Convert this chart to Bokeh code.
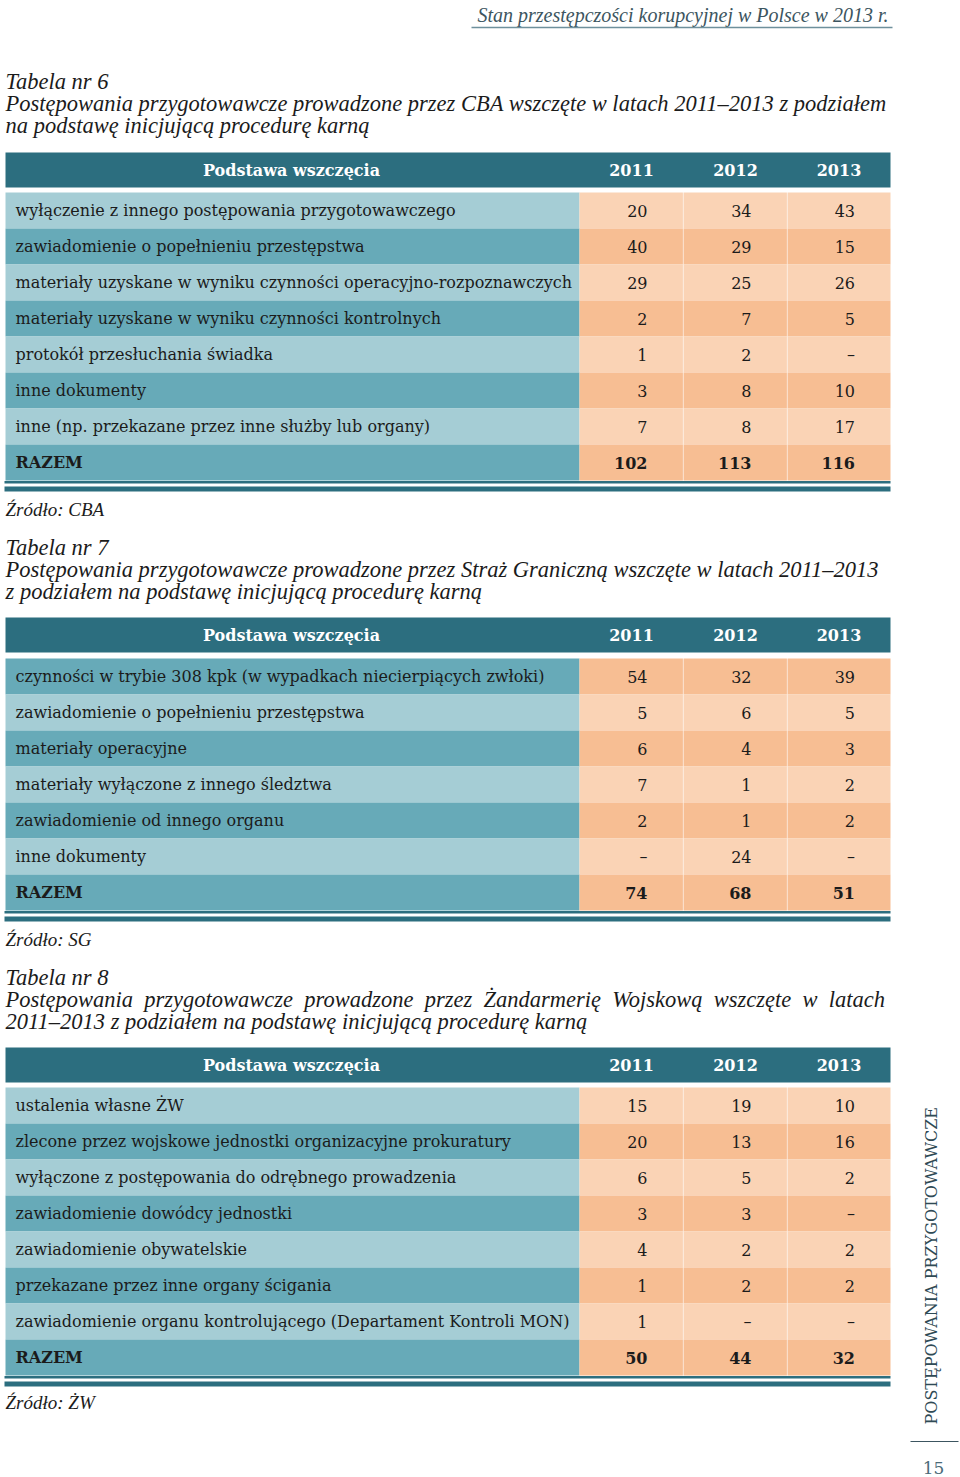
import math
from bokeh.plotting import figure
from bokeh.models import Range1d, ColumnDataSource
from bokeh.core.properties import value
from bokeh.embed import file_html
from bokeh.resources import INLINE

# ---------------- data ----------------
years = ["2011", "2012", "2013"]
head_label = "Podstawa wszczęcia"
total_label = "RAZEM"

t6_title = "Tabela nr 6"
t6_caption = ["Postępowania przygotowawcze prowadzone przez CBA wszczęte w latach 2011–2013 z podziałem",
              "na podstawę inicjującą procedurę karną"]
t6_labels = ["wyłączenie z innego postępowania przygotowawczego",
             "zawiadomienie o popełnieniu przestępstwa",
             "materiały uzyskane w wyniku czynności operacyjno-rozpoznawczych",
             "materiały uzyskane w wyniku czynności kontrolnych",
             "protokół przesłuchania świadka",
             "inne dokumenty",
             "inne (np. przekazane przez inne służby lub organy)"]
t6_2011 = [20, 40, 29, 2, 1, 3, 7]
t6_2012 = [34, 29, 25, 7, 2, 8, 8]
t6_2013 = [43, 15, 26, 5, None, 10, 17]
t6_total = [102, 113, 116]
t6_source = "Źródło: CBA"

t7_title = "Tabela nr 7"
t7_caption = ["Postępowania przygotowawcze prowadzone przez Straż Graniczną wszczęte w latach 2011–2013",
              "z podziałem na podstawę inicjującą procedurę karną"]
t7_labels = ["czynności w trybie 308 kpk (w wypadkach niecierpiących zwłoki)",
             "zawiadomienie o popełnieniu przestępstwa",
             "materiały operacyjne",
             "materiały wyłączone z innego śledztwa",
             "zawiadomienie od innego organu",
             "inne dokumenty"]
t7_2011 = [54, 5, 6, 7, 2, None]
t7_2012 = [32, 6, 4, 1, 1, 24]
t7_2013 = [39, 5, 3, 2, 2, None]
t7_total = [74, 68, 51]
t7_source = "Źródło: SG"

t8_title = "Tabela nr 8"
t8_caption = ["Postępowania przygotowawcze prowadzone przez Żandarmerię Wojskową wszczęte w latach",
              "2011–2013 z podziałem na podstawę inicjującą procedurę karną"]
t8_labels = ["ustalenia własne ŻW",
             "zlecone przez wojskowe jednostki organizacyjne prokuratury",
             "wyłączone z postępowania do odrębnego prowadzenia",
             "zawiadomienie dowódcy jednostki",
             "zawiadomienie obywatelskie",
             "przekazane przez inne organy ścigania",
             "zawiadomienie organu kontrolującego (Departament Kontroli MON)"]
t8_2011 = [15, 20, 6, 3, 4, 1, 1]
t8_2012 = [19, 13, 5, 3, 2, 2, None]
t8_2013 = [10, 16, 2, None, 2, 2, None]
t8_total = [50, 44, 32]
t8_source = "Źródło: ŻW"

page_header = "Stan przestępczości korupcyjnej w Polsce w 2013 r."
side_label = "POSTĘPOWANIA PRZYGOTOWAWCZE"
page_no = "15"

# ---------------- style ----------------
SERIF = value("DejaVu Serif")
ITAL = value("Liberation Serif")
HEAD = "#2C6E7F"
LAB_L, LAB_D = "#A5CDD5", "#67AAB8"
VAL_L, VAL_D = "#FAD3B5", "#F7BE93"
TXT = "#1b1b1b"
CAP_SIZE = "22.5px"
BODY_SIZE = "16px"

W, H = 960, 1477
p = figure(width=W, height=H, x_range=Range1d(0, W), y_range=Range1d(H, 0),
           output_backend="svg", toolbar_location=None, min_border=0)
p.axis.visible = False
p.grid.visible = False
p.outline_line_color = None
p.background_fill_color = "white"
p.border_fill_color = "white"


def fmt(v):
    return "–" if v is None else str(v)


def justify(line):
    # widen inter-word gaps to mimic the justified line of the source
    return "\u00a0 ".join(line.split(" "))


def draw_table(title, caption, labels, cols, totals, source, y_title, head_top, row_top, src_y,
               justify_first=False):
    p.text(x=[5], y=[y_title], text=[title], text_font=ITAL, text_font_style="italic",
           text_font_size=CAP_SIZE, text_color=TXT, text_baseline="middle")
    cap = [justify(caption[0]) if justify_first else caption[0], caption[1]]
    p.text(x=[5, 5], y=[y_title + 22, y_title + 44], text=cap, text_font=ITAL,
           text_font_style="italic", text_font_size=CAP_SIZE, text_color=TXT, text_baseline="middle")
    xl, xr = 5, 890
    xs = [579, 683, 787, 890]
    # header
    p.quad(left=[xl], right=[xr], top=[head_top], bottom=[head_top + 35], fill_color=HEAD, line_color=None)
    p.text(x=[291], y=[head_top + 17.5], text=[head_label], text_font=SERIF, text_font_style="bold",
           text_font_size="16px", text_color="white", text_align="center", text_baseline="middle")
    p.text(x=[(xs[i] + xs[i + 1]) / 2 for i in range(3)], y=[head_top + 17.5] * 3, text=years,
           text_font=SERIF, text_font_style="bold", text_font_size="16px", text_color="white",
           text_align="center", text_baseline="middle")
    # body (banding counted back from the RAZEM row, which is always dark)
    n = len(labels) + 1
    rh = 36
    tops = [row_top + i * rh for i in range(n)]
    bots = [t + rh for t in tops]
    dark = [(n - 1 - i) % 2 == 0 for i in range(n)]
    p.quad(left=[xl] * n, right=[579] * n, top=tops, bottom=bots,
           fill_color=[LAB_D if d else LAB_L for d in dark], line_color=None)
    for j in range(3):
        p.quad(left=[xs[j]] * n, right=[xs[j + 1] - (0.6 if j < 2 else 0)] * n, top=tops, bottom=bots,
               fill_color=[VAL_D if d else VAL_L for d in dark], line_color=None)
    cy = [t + rh / 2 for t in tops]
    p.text(x=[15] * (n - 1), y=cy[:-1], text=labels, text_font=SERIF, text_font_size=BODY_SIZE,
           text_color=TXT, text_baseline="middle")
    p.text(x=[15], y=[cy[-1]], text=[total_label], text_font=SERIF, text_font_style="bold",
           text_font_size=BODY_SIZE, text_color=TXT, text_baseline="middle")
    for j in range(3):
        xc = (xs[j] + xs[j + 1]) / 2 + 16
        src = ColumnDataSource(dict(x=[xc] * (n - 1), y=cy[:-1], t=[fmt(v) for v in cols[j]]))
        p.text(x="x", y="y", text="t", source=src, text_font=SERIF, text_font_size=BODY_SIZE,
               text_color=TXT, text_align="right", text_baseline="middle")
        p.text(x=[xc], y=[cy[-1]], text=[str(totals[j])], text_font=SERIF, text_font_style="bold",
               text_font_size=BODY_SIZE, text_color=TXT, text_align="right", text_baseline="middle")
    yb = bots[-1]
    p.quad(left=[xl - 1], right=[xr], top=[yb + 0.5], bottom=[yb + 3], fill_color=HEAD, line_color=None)
    p.quad(left=[xl - 1], right=[xr], top=[yb + 6], bottom=[yb + 11], fill_color=HEAD, line_color=None)
    p.text(x=[5], y=[src_y], text=[source], text_font=ITAL, text_font_style="italic",
           text_font_size="19px", text_color=TXT, text_baseline="middle")


draw_table(t6_title, t6_caption, t6_labels, [t6_2011, t6_2012, t6_2013], t6_total, t6_source,
           81, 152, 192, 509)
draw_table(t7_title, t7_caption, t7_labels, [t7_2011, t7_2012, t7_2013], t7_total, t7_source,
           547, 617, 658, 939)
draw_table(t8_title, t8_caption, t8_labels, [t8_2011, t8_2012, t8_2013], t8_total, t8_source,
           977, 1047, 1087, 1402, justify_first=True)

# page header
p.text(x=[888], y=[14], text=[page_header], text_font=ITAL, text_font_style="italic",
       text_font_size="20px", text_color="#3C5560", text_align="right", text_baseline="middle")
p.segment(x0=[471], y0=[27], x1=[892], y1=[27], line_color="#6E909C", line_width=1.5)

# side label and page number
p.text(x=[931], y=[1424], text=[side_label], angle=[math.pi / 2], text_font=SERIF,
       text_font_size="16px", text_color="#2F4A55", text_align="left", text_baseline="middle")
p.segment(x0=[910], y0=[1441], x1=[958], y1=[1441], line_color="#3C5560", line_width=1.2)
p.text(x=[933], y=[1467], text=[page_no], text_font=SERIF, text_font_size="17px",
       text_color="#4A6A78", text_align="center", text_baseline="middle")

open("out.html", "w").write(file_html(p, INLINE))
